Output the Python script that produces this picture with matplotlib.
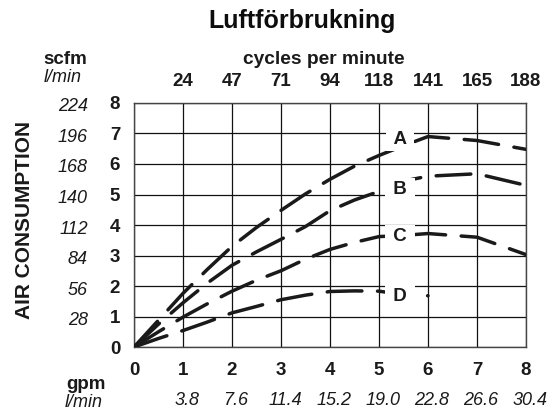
import matplotlib.pyplot as plt

plt.rcParams['font.family'] = ['Liberation Sans', 'DejaVu Sans']

# gpm on the x axis, scfm on the y axis
gpm_ticks = [0, 1, 2, 3, 4, 5, 6, 7, 8]
lmin_x = ['', '3.8', '7.6', '11.4', '15.2', '19.0', '22.8', '26.6', '30.4']
cpm_labels = ['24', '47', '71', '94', '118', '141', '165', '188']
scfm_ticks = [0, 1, 2, 3, 4, 5, 6, 7, 8]
lmin_y = ['28', '56', '84', '112', '140', '168', '196', '224']

a_x = [0, 0.5, 1, 1.5, 2, 2.5, 3, 3.5, 4, 4.5, 5, 5.5, 6, 7, 8]
a_y = [0, 0.88, 1.76, 2.55, 3.3, 3.92, 4.48, 5.02, 5.5, 5.93, 6.28, 6.6, 6.9, 6.77, 6.48]
b_x = [0, 0.5, 1, 1.5, 2, 2.5, 3, 3.5, 4, 4.5, 5, 5.5, 6, 7, 8]
b_y = [0, 0.75, 1.45, 2.1, 2.68, 3.12, 3.53, 3.95, 4.47, 4.82, 5.1, 5.44, 5.6, 5.68, 5.3]
c_x = [0, 0.5, 1, 1.5, 2, 2.5, 3, 3.5, 4, 4.5, 5, 5.5, 6, 7, 8]
c_y = [0, 0.5, 0.98, 1.42, 1.83, 2.19, 2.5, 2.88, 3.2, 3.43, 3.62, 3.66, 3.72, 3.6, 3.03]
d_x = [0, 0.5, 1, 1.5, 2, 2.5, 3, 3.5, 4, 4.5, 5, 5.5, 6]
d_y = [0, 0.28, 0.54, 0.82, 1.12, 1.33, 1.55, 1.7, 1.82, 1.84, 1.83, 1.72, 1.68]

curves = {'A': (a_x, a_y, 6.8), 'B': (b_x, b_y, 5.18),
          'C': (c_x, c_y, 3.63), 'D': (d_x, d_y, 1.66)}

fig = plt.figure(figsize=(5.52, 4.11), dpi=100)
ax = fig.add_axes([0.2428, 0.1557, 0.7101, 0.5937])
ink = '#1a1a1a'

for name, (xs, ys, ly) in curves.items():
    ax.plot(xs, ys, color=ink, lw=2.5, dashes=(10, 4.5), solid_capstyle='round',
            dash_capstyle='round', zorder=3)
    ax.text(5.43, ly, ' ' + name + ' ', fontsize=13.5, fontweight='bold', color=ink,
            ha='center', va='center', zorder=4,
            bbox=dict(boxstyle='square,pad=0.15', fc='white', ec='none'))

ax.set_xlim(0, 8)
ax.set_ylim(0, 8)
ax.set_xticks(gpm_ticks)
ax.set_yticks(scfm_ticks)
ax.set_xticklabels([str(t) for t in gpm_ticks], fontsize=13.5, fontweight='bold', color=ink)
ax.set_yticklabels([str(t) for t in scfm_ticks], fontsize=13.5, fontweight='bold', color=ink)
ax.tick_params(length=0, pad=11)
ax.tick_params(axis='y', pad=10)
ax.grid(True, color='#111111', lw=0.9)
for s in ax.spines.values():
    s.set_color('#444444')
    s.set_linewidth(1)

top = ax.twiny()
top.set_xlim(0, 8)
top.set_xticks(gpm_ticks[1:])
top.set_xticklabels(cpm_labels, fontsize=13.5, fontweight='bold', color=ink)
top.tick_params(length=0, pad=9)
for s in top.spines.values():
    s.set_visible(False)

# second unit rows, in l/min
for x, lab in zip(gpm_ticks, lmin_x):
    ax.annotate(lab, (x, 0), xycoords=('data', 'axes fraction'), xytext=(4, -53),
                textcoords='offset pixels', ha='center', va='center',
                fontsize=13, fontstyle='italic', color=ink)
for y, lab in zip(scfm_ticks[1:], lmin_y):
    ax.annotate(lab, (0, y), xycoords=('axes fraction', 'data'), xytext=(-46, -4),
                textcoords='offset pixels', ha='right', va='center',
                fontsize=13, fontstyle='italic', color=ink)

fig.text(302 / 552, 1 - 21 / 411, 'Luftförbrukning', fontsize=18, fontweight='bold',
         ha='center', va='center', color='#0d0d0d')
fig.text(324 / 552, 1 - 60 / 411, 'cycles per minute', fontsize=13.8, fontweight='bold',
         ha='center', va='center', color=ink)
fig.text(65 / 552, 1 - 60 / 411, 'scfm', fontsize=13.5, fontweight='bold',
         ha='center', va='center', color=ink)
fig.text(63 / 552, 1 - 78 / 411, 'l/min', fontsize=13, fontstyle='italic',
         ha='center', va='center', color=ink)
fig.text(86 / 552, 1 - 384 / 411, 'gpm', fontsize=13.5, fontweight='bold',
         ha='center', va='center', color=ink)
fig.text(84 / 552, 1 - 402 / 411, 'l/min', fontsize=13, fontstyle='italic',
         ha='center', va='center', color=ink)
fig.text(25 / 552, 1 - 220 / 411, 'AIR CONSUMPTION', fontsize=15, fontweight='bold',
         rotation=90, ha='center', va='center', color=ink)

fig.savefig('out.png', dpi=100)
